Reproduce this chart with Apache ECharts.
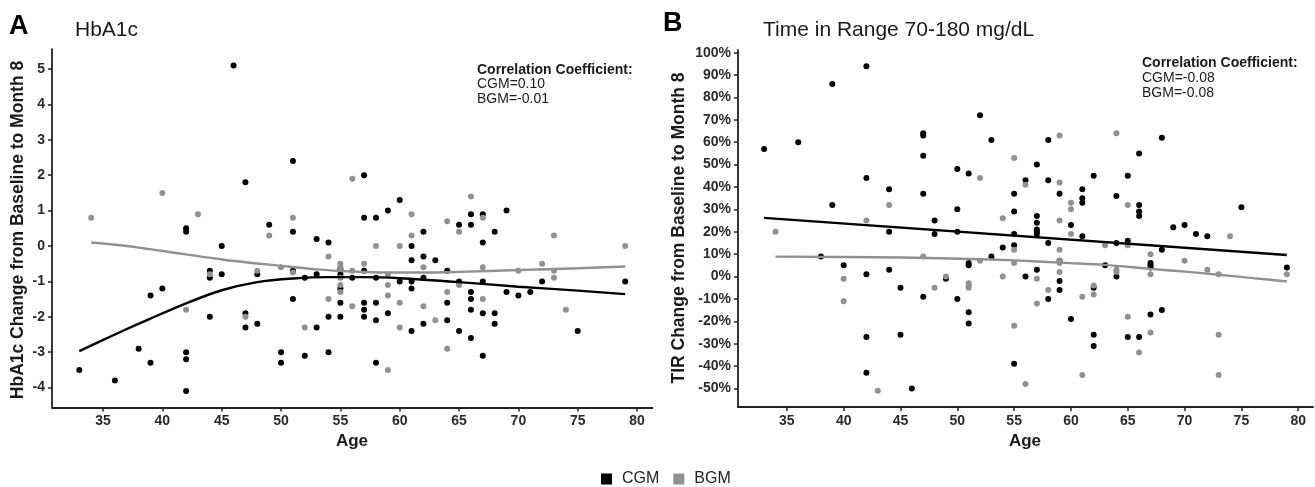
<!DOCTYPE html>
<html><head><meta charset="utf-8">
<script src="https://cdn.jsdelivr.net/npm/echarts@6/dist/echarts.min.js"></script>
<style>html,body{margin:0;padding:0;background:#fff}#c{width:1315px;height:487px}</style>
</head><body><div id="c"></div><script>
// ---- tick labels ----
const ageTicks = [35,40,45,50,55,60,65,70,75,80];
const hbTicks = [-4,-3,-2,-1,0,1,2,3,4,5];
const tirTicks = [-50,-40,-30,-20,-10,0,10,20,30,40,50,60,70,80,90,100];

// ---- Panel A: HbA1c change vs age ----
const hbCGM = [[33,-3.5],[36,-3.8],[38,-2.9],[39,-1.4],[39,-3.3],[40,-1.2],[42,0.5],[42,0.4],[42,-3.0],[42,-3.2],[42,-4.1],
 [44,-0.7],[44,-0.9],[44,-2.0],[45,0.0],[45,-0.8],[46,5.1],[47,1.8],[47,-1.9],[47,-2.3],[48,-0.8],[48,-2.2],[49,0.6],
 [50,-3.0],[50,-3.3],[51,2.4],[51,0.4],[51,-0.7],[51,-1.5],[52,-0.9],[52,-3.1],[53,0.2],[53,-0.8],[53,-2.3],
 [54,0.1],[54,-2.0],[54,-3.0],[55,-0.65],[55,-0.8],[55,-1.2],[55,-1.6],[55,-2.0],[56,-0.9],
 [57,2.0],[57,0.8],[57,-0.7],[57,-1.6],[57,-1.8],[57,-2.0],[58,0.8],[58,-0.9],[58,-1.6],[58,-2.1],[58,-3.3],
 [59,1.0],[59,-1.9],[60,1.3],[60,-1.0],[61,0.0],[61,-0.4],[61,-1.0],[61,-1.2],[61,-2.4],
 [62,0.4],[62,-0.3],[62,-0.9],[62,-2.2],[63,-0.4],[64,-0.7],[64,-1.6],[64,-2.1],[65,0.6],[65,-1.0],[65,-2.4],
 [66,0.9],[66,0.6],[66,-1.3],[66,-1.5],[66,-1.8],[66,-2.6],[67,0.9],[67,0.1],[67,-1.0],[67,-1.9],[67,-3.1],
 [68,0.4],[68,-1.9],[68,-2.2],[69,1.0],[69,-1.3],[70,-1.4],[71,-1.3],[72,-1.0],[75,-2.4],[79,-1.0]];
const hbBGM = [[34,0.8],[40,1.5],[42,-1.8],[43,0.9],[44,-0.8],[47,-2.0],[48,-0.7],[49,0.3],[50,-0.6],[51,0.8],[51,-0.75],
 [52,-2.3],[54,-0.3],[54,-1.5],[55,-0.5],[55,-0.6],[55,-0.9],[55,-1.1],[55,-1.3],[56,1.9],[56,-0.7],[56,-1.7],
 [57,-0.5],[58,0.0],[59,-0.8],[59,-1.1],[59,-1.4],[59,-3.5],[60,0.0],[60,-1.6],[60,-2.3],[61,0.9],[61,0.3],
 [62,-0.6],[62,-1.7],[63,-2.1],[64,0.7],[64,-1.3],[64,-2.9],[65,0.4],[65,-1.1],[66,1.4],[67,0.8],[67,-0.6],[67,-1.5],
 [70,-0.7],[72,-0.5],[73,0.3],[73,-0.7],[73,-0.9],[74,-1.8],[79,0.0]];
const hbFitCGM = [[33,-2.97],[36,-2.5],[39,-2.05],[42,-1.62],[45,-1.25],[48,-1.02],[51,-0.92],[54,-0.88],[57,-0.88],
 [60,-0.91],[65,-1.02],[70,-1.15],[75,-1.26],[79,-1.36]];
const hbFitBGM = [[34,0.1],[37,0.0],[40,-0.14],[45,-0.38],[50,-0.56],[53,-0.66],[56,-0.72],[59,-0.75],[62,-0.75],
 [65,-0.73],[70,-0.68],[75,-0.63],[79,-0.58]];

// ---- Panel B: TIR change (%) vs age ----
const tirCGM = [[33,57],[36,60],[38,9],[39,86],[39,32],[40,5],[42,94],[42,44],[42,1],[42,-27],[42,-43],[44,39],[44,20],[44,3],
 [45,-5],[45,-26],[46,-50],[47,64],[47,63],[47,54],[47,37],[47,-9],[48,25],[48,19],[49,-1],[50,48],[50,30],[50,20],[50,-10],
 [51,46],[51,6],[51,5],[51,-16],[51,-21],[52,72],[53,61],[53,9],[54,13],[55,37],[55,29],[55,19],[55,14],[55,-39],[56,43],[56,0],
 [57,50],[57,27],[57,24],[57,21],[57,20],[57,19],[57,3],[58,61],[58,43],[58,15],[58,-10],[59,37],[59,7],[59,-2],[59,-6],
 [60,23],[60,-19],[61,39],[61,35],[61,33],[61,18],[62,45],[62,-5],[62,-26],[62,-31],[63,5],[64,36],[64,15],[64,0],
 [65,45],[65,16],[65,-27],[66,55],[66,32],[66,29],[66,27],[66,-27],[67,6],[67,5],[67,4],[67,-17],[68,62],[68,12],[68,-15],
 [69,22],[70,23],[71,19],[72,18],[75,31],[79,4]];
const tirBGM = [[34,20],[40,-1],[40,-11],[42,25],[43,-51],[44,32],[47,9],[48,-5],[49,0],[51,-3],[51,-4],[51,-5],[52,44],[52,7],
 [54,26],[54,0],[55,53],[55,12],[55,6],[55,-22],[56,41],[56,-48],[57,-1],[57,-12],[58,-6],[59,63],[59,42],[59,25],[59,12],
 [59,7],[59,6],[59,2],[60,33],[60,30],[60,19],[61,-9],[61,-44],[62,-4],[62,-8],[63,14],[64,64],[64,3],[64,2],[65,32],[65,14],
 [65,-18],[66,-34],[67,10],[67,1],[67,-25],[70,7],[72,3],[73,1],[73,-26],[73,-44],[74,18],[79,1]];
const tirFitCGM = [[33,26.2],[79,9.6]];
const tirFitBGM = [[34,8.9],[45,8.5],[52,7.7],[55,7.2],[60,6.0],[63,5.2],[67,3.4],[70,2.2],[73,0.8],[76,-0.7],[79,-2.2]];

const FONT = "'Liberation Sans', Arial, sans-serif";
const BLACK = '#000', GRAY = '#919191', AX = '#222';

function xAxisCfg(idx){
  return {gridIndex: idx, type:'value', min:30.7, max:81.3,
    axisLine:{show:true, onZero:false, lineStyle:{color:AX, width:1.8}},
    axisTick:{show:true, length:4, customValues: ageTicks, lineStyle:{color:AX, width:1.5}},
    axisLabel:{customValues: ageTicks, margin:7, color:'#2a2a2a', fontFamily:FONT, fontWeight:'bold', fontSize:14},
    splitLine:{show:false}};
}
function yAxisCfg(idx, min, max, ticks, fmt){
  return {gridIndex: idx, type:'value', min:min, max:max,
    axisLine:{show:true, onZero:false, lineStyle:{color:AX, width:1.8}},
    axisTick:{show:true, length:4, customValues: ticks, lineStyle:{color:AX, width:1.5}},
    axisLabel:{customValues: ticks, margin:7, color:'#2a2a2a', fontFamily:FONT, fontWeight:'bold', fontSize:14, formatter: fmt},
    splitLine:{show:false}};
}
function scatter(name, data, color, idx){
  return {name:name, type:'scatter', xAxisIndex:idx, yAxisIndex:idx, data:data, symbolSize:6,
    itemStyle:{color:color, opacity:1}, z:2};
}
function fit(name, data, color, idx, smooth){
  return {name:name, type:'line', xAxisIndex:idx, yAxisIndex:idx, data:data, symbol:'none', smooth:smooth,
    lineStyle:{color:color, width:2.4}, z:3, silent:true};
}
function txt(x, y, s, size, weight){
  return {type:'text', x:x, y:y, style:{text:s, fill:'#1a1a1a', font: weight+' '+size+'px '+FONT,
    textVerticalAlign:'middle'}};
}

const chart = echarts.init(document.getElementById('c'), null, {renderer:'canvas'});
chart.setOption({
  animation:false,
  backgroundColor:'#fff',
  grid:[{left:52, top:49.2, width:600.5, height:358.2},
        {left:738, top:49.9, width:575, height:357}],
  xAxis:[xAxisCfg(0), xAxisCfg(1)],
  yAxis:[yAxisCfg(0, -4.56, 5.56, hbTicks, v=>String(v)),
         yAxisCfg(1, -58.25, 101.25, tirTicks, v=>v+'%')],
  legend:{data:['CGM','BGM'], left:596, top:466, icon:'rect', itemWidth:11, itemHeight:11, itemGap:14,
    textStyle:{fontFamily:FONT, fontSize:16, color:'#222', padding:[0,0,0,5]}},
  series:[
    scatter('CGM', hbCGM, BLACK, 0), scatter('BGM', hbBGM, GRAY, 0),
    fit('fitA1', hbFitCGM, BLACK, 0, 0.3), fit('fitA2', hbFitBGM, GRAY, 0, 0.3),
    scatter('CGM', tirCGM, BLACK, 1), scatter('BGM', tirBGM, GRAY, 1),
    fit('fitB1', tirFitCGM, BLACK, 1, false), fit('fitB2', tirFitBGM, GRAY, 1, 0.3)
  ],
  graphic:[
    {type:'text', x:9, y:27, style:{text:'A', fill:'#000', font:'bold 27px '+FONT, textVerticalAlign:'middle'}},
    txt(75, 30, 'HbA1c', 21, 'normal'),
    {type:'text', x:663, y:24, style:{text:'B', fill:'#000', font:'bold 27px '+FONT, textVerticalAlign:'middle'}},
    txt(763, 30, 'Time in Range 70-180 mg/dL', 21, 'normal'),
    txt(477, 70, 'Correlation Coefficient:', 14, 'bold'),
    txt(477, 84.5, 'CGM=0.10', 14, 'normal'),
    txt(477, 99, 'BGM=-0.01', 14, 'normal'),
    txt(1142, 63, 'Correlation Coefficient:', 14, 'bold'),
    txt(1142, 78, 'CGM=-0.08', 14, 'normal'),
    txt(1142, 93, 'BGM=-0.08', 14, 'normal'),
    {type:'text', x:352, y:441, style:{text:'Age', fill:'#1a1a1a', font:'bold 17px '+FONT, textAlign:'center', textVerticalAlign:'middle'}},
    {type:'text', x:1025, y:441, style:{text:'Age', fill:'#1a1a1a', font:'bold 17px '+FONT, textAlign:'center', textVerticalAlign:'middle'}},
    {type:'text', x:18.5, y:230, rotation:Math.PI/2, style:{text:'HbA1c Change from Baseline to Month 8', fill:'#1a1a1a', font:'bold 17.5px '+FONT, textAlign:'center', textVerticalAlign:'middle'}},
    {type:'text', x:679, y:228, rotation:Math.PI/2, style:{text:'TIR Change from Baseline to Month 8', fill:'#1a1a1a', font:'bold 17.5px '+FONT, textAlign:'center', textVerticalAlign:'middle'}}
  ]
});
</script></body></html>
